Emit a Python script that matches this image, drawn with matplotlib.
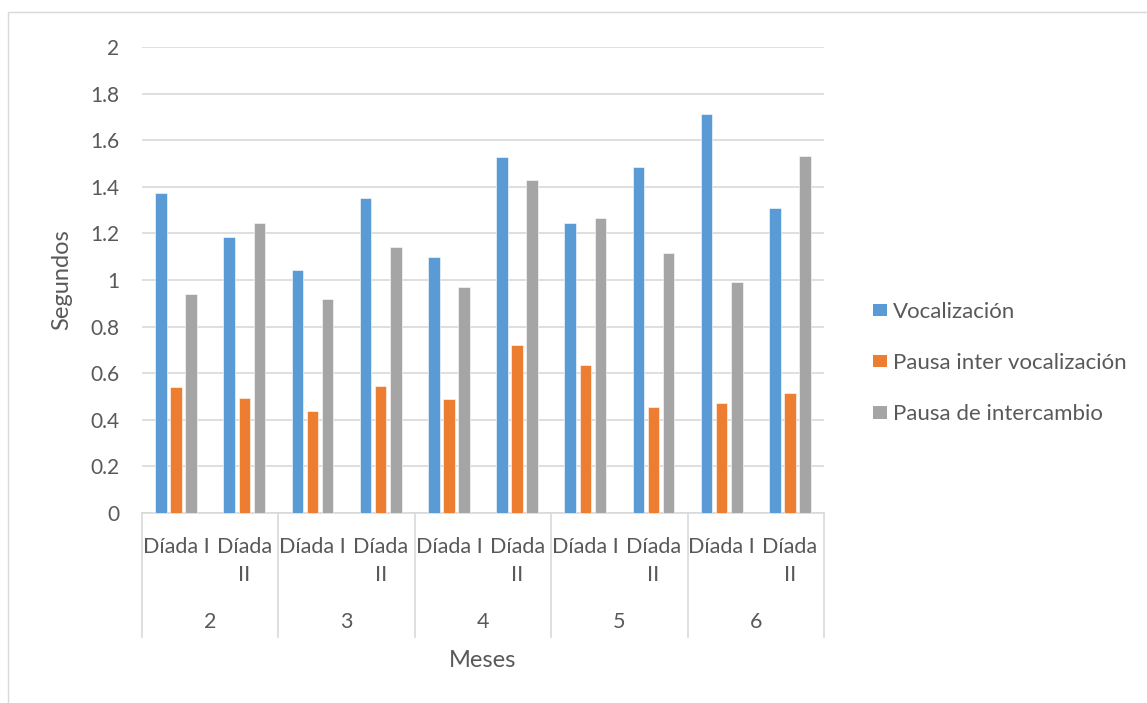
import matplotlib
matplotlib.use("Agg")
import matplotlib.pyplot as plt
import matplotlib.transforms as mtransforms
from matplotlib.patches import Rectangle, Patch
import numpy as np

plt.rcParams['font.family'] = ['Lato', 'DejaVu Sans']

meses = ["2", "3", "4", "5", "6"]
diadas = ["Díada I", "Díada\nII"]
series_names = ["Vocalización", "Pausa inter vocalización", "Pausa de intercambio"]
vocalizacion = [1.374, 1.186, 1.043, 1.353, 1.100, 1.526, 1.243, 1.487, 1.713, 1.309]
pausa_inter = [0.541, 0.494, 0.439, 0.544, 0.491, 0.719, 0.634, 0.453, 0.470, 0.516]
pausa_interc = [0.941, 1.246, 0.919, 1.141, 0.970, 1.430, 1.266, 1.114, 0.990, 1.534]
colores = ["#5B9BD5", "#ED7D31", "#A5A5A5"]
yticks = [0, 0.2, 0.4, 0.6, 0.8, 1, 1.2, 1.4, 1.6, 1.8, 2]

txt = "#595959"
grid = "#D9D9D9"

fig = plt.figure(figsize=(11.47, 7.03), dpi=100)
ax = fig.add_axes([142/1147, 190/703, 682/1147, 466/703])

# borde del grafico (estilo excel)
fig.patches.append(Rectangle((8/1147, -0.01), 1.2, 1 - 12/703 + 0.01, transform=fig.transFigure,
                             fill=False, edgecolor=grid, linewidth=1))

x = np.arange(len(vocalizacion))
w = 0.17
off = 0.22
for i, (vals, c) in enumerate(zip([vocalizacion, pausa_inter, pausa_interc], colores)):
    ax.bar(x + (i - 1) * off, vals, width=w, color=c, label=series_names[i],
           edgecolor="white", linewidth=0.4, zorder=3)

ax.set_ylim(0, 2)
ax.set_xlim(-0.5, len(x) - 0.5)
ax.set_yticks(yticks)
ax.set_yticklabels([("%g" % v) for v in yticks])
ax.tick_params(axis='y', length=0, pad=16.5, labelsize=15, labelcolor=txt)
ax.set_xticks([])
ax.grid(axis='y', color=grid, linewidth=1.2, zorder=0)
for s in ["top", "right", "left"]:
    ax.spines[s].set_visible(False)
ax.spines["bottom"].set_color(grid)
ax.spines["bottom"].set_linewidth(1.2)

# eje de categorias en dos niveles
trans = mtransforms.blended_transform_factory(ax.transData, ax.transAxes)
line_y = [-0.0858, -0.146]
for j in range(len(x)):
    for k, parte in enumerate(diadas[j % 2].split("\n")):
        ax.text(x[j], line_y[k], parte, transform=trans, ha='center', va='baseline',
                fontsize=15.5, color=txt)
for k, m in enumerate(meses):
    ax.text(2 * k + 0.5, -0.2468, m, transform=trans, ha='center', va='baseline',
            fontsize=15.5, color=txt)
for b in np.arange(-0.5, len(x), 2):
    ax.plot([b, b], [0, -0.266], transform=trans, color=grid, linewidth=1.2, clip_on=False)

ax.set_ylabel("Segundos", fontsize=17, color=txt)
ax.yaxis.set_label_coords(-0.103, 0.5)
ax.text(0.5, -0.330, "Meses", transform=ax.transAxes, ha='center', va='baseline',
        fontsize=17, color=txt)

handles = [Patch(facecolor=c) for c in colores]
ax.legend(handles, series_names, loc='center left', bbox_to_anchor=(1.0718, 0.322),
          frameon=False, fontsize=16, labelcolor=txt, handlelength=0.63, handleheight=0.5,
          handletextpad=0.27, labelspacing=1.4, borderpad=0, borderaxespad=0)

fig.savefig("out.png", dpi=100)
